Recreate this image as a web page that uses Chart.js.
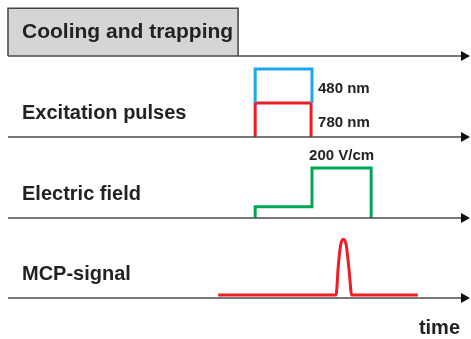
<!DOCTYPE html>
<html>
<head>
<meta charset="utf-8">
<script src="https://cdn.jsdelivr.net/npm/chart.js@4"></script>
<style>
  body { margin: 0; background: #fff; }
  #wrap { width: 471px; height: 339px; }
</style>
</head>
<body>
<div id="wrap"><canvas id="timing"></canvas></div>
<script>
// row titles, top to bottom
const rowNames = ['Cooling and trapping', 'Excitation pulses', 'Electric field', 'MCP-signal'];

// time axis in arbitrary units (0..100)
const coolingTime = [0, 0, 49.8, 49.8];
const coolingLevel = [0, 1, 1, 0];

const pulse780Time = [53.5, 53.5, 65.6, 65.6];
const pulse780Level = [0, 1, 1, 0];
const pulse480Time = [53.5, 53.5, 65.8, 65.8];
const pulse480Level = [1, 2, 2, 1];

const fieldTime = [53.5, 53.5, 65.8, 65.8, 78.6, 78.6];
const fieldValue = [0, 45, 45, 200, 200, 0];   // V/cm

const mcpTime = [45.5, 71.0, 71.5, 72.0, 72.6, 73.2, 73.8, 74.4, 88.7];
const mcpValue = [0.05, 0.05, 0.55, 0.9, 1.0, 0.9, 0.5, 0.05, 0.05];

function pts(xs, ys) {
    return xs.map((x, i) => ({ x: x, y: ys[i] }));
}

const labelFont = 'bold 20px "Liberation Sans", Arial, sans-serif';
const titleFont = 'bold 21px "Liberation Sans", Arial, sans-serif';
const smallFont = 'bold 15px "Liberation Sans", Arial, sans-serif';

const timingDecor = {
    id: 'timingDecor',
    afterDatasetsDraw(chart) {
        const ctx = chart.ctx;
        const area = chart.chartArea;
        const rows = ['row0', 'row1', 'row2', 'row3'];
        ctx.save();
        rows.forEach((id, i) => {
            const y = chart.scales[id].getPixelForValue(0);
            // time axis line + arrow head
            ctx.strokeStyle = '#4a4a4a';
            ctx.lineWidth = 1.5;
            ctx.beginPath();
            ctx.moveTo(area.left, y);
            ctx.lineTo(area.right - 6, y);
            ctx.stroke();
            ctx.fillStyle = '#111';
            ctx.beginPath();
            ctx.moveTo(area.right, y);
            ctx.lineTo(area.right - 9, y - 5);
            ctx.lineTo(area.right - 9, y + 5);
            ctx.closePath();
            ctx.fill();
            // row title
            ctx.fillStyle = '#222';
            ctx.font = i === 0 ? titleFont : labelFont;
            ctx.textAlign = 'left';
            ctx.textBaseline = 'alphabetic';
            ctx.fillText(rowNames[i], 22, y - 18);
        });

        // pulse labels
        const r1 = chart.scales.row1;
        const r2 = chart.scales.row2;
        const x = chart.scales.x;
        ctx.font = smallFont;
        ctx.fillStyle = '#222';
        ctx.textAlign = 'left';
        ctx.fillText('480 nm', x.getPixelForValue(pulse480Time[2]) + 6, r1.getPixelForValue(1.3));
        ctx.fillText('780 nm', x.getPixelForValue(pulse780Time[2]) + 7, r1.getPixelForValue(0.3));
        ctx.textAlign = 'center';
        ctx.fillText('200 V/cm', x.getPixelForValue((fieldTime[2] + fieldTime[4]) / 2), r2.getPixelForValue(200) - 8);

        // time label
        ctx.font = labelFont;
        ctx.textAlign = 'right';
        ctx.fillText('time', area.right - 10, 334);
        ctx.restore();
    }
};

const rowScale = (max, weight, order) => ({
    type: 'linear',
    display: false,
    position: 'right',
    stack: 'rows',
    stackWeight: weight,
    weight: order,
    min: 0,
    max: max
});

new Chart(document.getElementById('timing'), {
    type: 'scatter',
    data: {
        datasets: [
            {
                data: pts(coolingTime, coolingLevel),
                yAxisID: 'row0',
                showLine: true,
                borderColor: '#444',
                borderWidth: 1.5,
                backgroundColor: '#d5d5d5',
                fill: 'origin',
                pointRadius: 0,
                clip: false
            },
            {
                data: pts(pulse480Time, pulse480Level),
                yAxisID: 'row1',
                showLine: true,
                borderColor: '#1aa9ee',
                borderWidth: 3,
                pointRadius: 0,
                clip: false
            },
            {
                data: pts(pulse780Time, pulse780Level),
                yAxisID: 'row1',
                showLine: true,
                borderColor: '#ee1c25',
                borderWidth: 3,
                pointRadius: 0,
                clip: false
            },
            {
                data: pts(fieldTime, fieldValue),
                yAxisID: 'row2',
                showLine: true,
                borderColor: '#00a651',
                borderWidth: 3,
                pointRadius: 0,
                clip: false
            },
            {
                data: pts(mcpTime, mcpValue),
                yAxisID: 'row3',
                showLine: true,
                borderColor: '#ee1c25',
                borderWidth: 3,
                cubicInterpolationMode: 'monotone',
                pointRadius: 0,
                clip: false
            }
        ]
    },
    options: {
        responsive: true,
        maintainAspectRatio: false,
        animation: false,
        layout: {
            padding: { left: 8, right: 1, top: 0, bottom: 41 }
        },
        scales: {
            x: { type: 'linear', display: false, min: 0, max: 100 },
            row0: rowScale(1.17, 56, 0),
            row1: rowScale(2.38, 81, 1),
            row2: rowScale(324, 81, 2),
            row3: rowScale(1.36, 80, 3)
        },
        plugins: {
            legend: { display: false },
            tooltip: { enabled: false }
        },
        events: []
    },
    plugins: [timingDecor]
});
</script>
</body>
</html>
